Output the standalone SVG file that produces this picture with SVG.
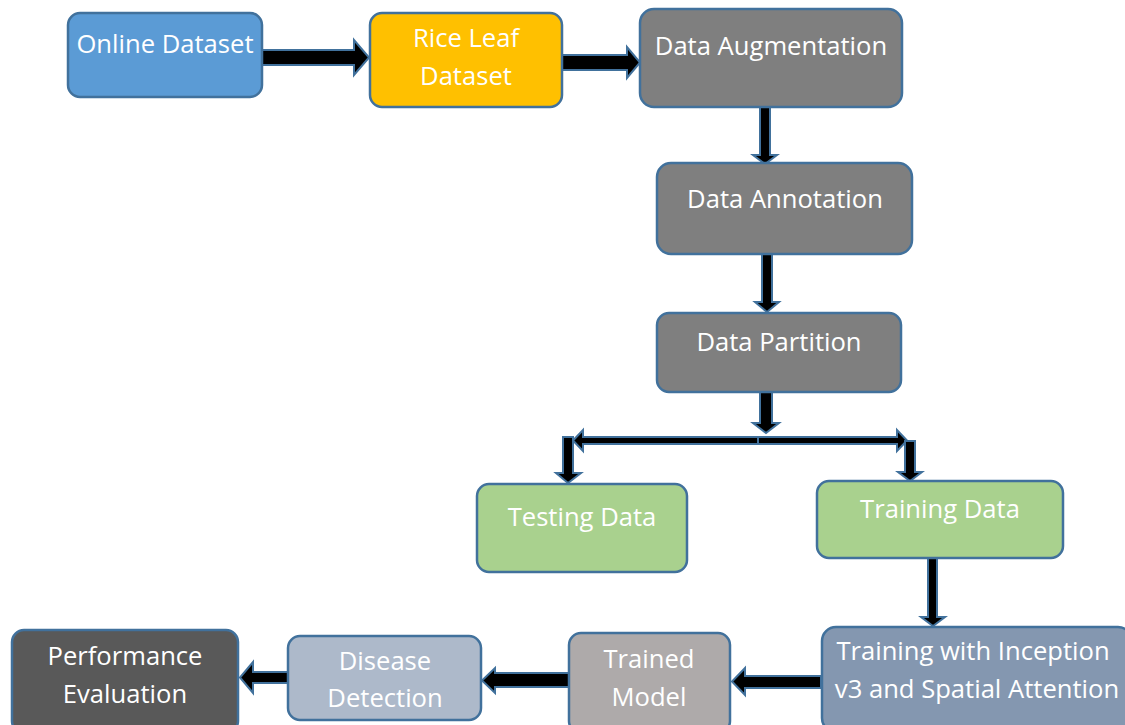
<svg xmlns="http://www.w3.org/2000/svg" width="1125" height="725" viewBox="0 0 1125 725">
<style>
.n{stroke:#41719C;stroke-width:2.5}
.t{fill:#fff;font-family:"Open Sans",sans-serif;font-size:25.6px;text-anchor:middle}
.a{fill:#000;stroke:#41719C;stroke-width:2;stroke-linejoin:miter}
</style>
<rect width="1125" height="725" fill="#fff"/>
<g id="connectors">
<polygon class="a" points="262,50 354,50 354,40 369,57.5 354,75 354,65 262,65"/>
<polygon class="a" points="562,55 627,55 627,47 640,62.5 627,78 627,70 562,70"/>
<polygon class="a" points="760,107 770,107 770,155 777,155 765,164 753,155 760,155"/>
<polygon class="a" points="762,254 772,254 772,302 779,302 767,312 755,302 762,302"/>
<polygon class="a" points="760,391 772,391 772,423 779,423 766,433 753,423 760,423"/>
<polygon class="a" points="758,437 583,437 583,430 573,440.5 583,451 583,444 758,444"/>
<polygon class="a" points="758,437 897,437 897,430 907,440.5 897,451 897,444 758,444"/>
<polygon class="a" points="563,437 573,437 573,473 581,473 568,483 556,473 563,473"/>
<polygon class="a" points="905,441 915,441 915,472 922,472 910,481 898,472 905,472"/>
<polygon class="a" points="928,558 937,558 937,617 945,617 933,626 921,617 928,617"/>
<polygon class="a" points="821,676 745,676 745,668 732,681.5 745,695 745,688 821,688"/>
<polygon class="a" points="569,673 495,673 495,668 482,680.5 495,693 495,687 569,687"/>
<polygon class="a" points="288,672 253,672 253,662 240,677.5 253,693 253,683 288,683"/>
</g>
<g id="online-dataset">
<rect class="n" x="68" y="13" width="194" height="84" rx="12" fill="#5B9BD5"/>
<text class="t" x="165" y="53">Online Dataset</text>
</g>
<g id="rice-leaf-dataset">
<rect class="n" x="370" y="13" width="192" height="94" rx="12" fill="#FFC000"/>
<text class="t" x="466" y="47">Rice Leaf</text>
<text class="t" x="466" y="85">Dataset</text>
</g>
<g id="data-augmentation">
<rect class="n" x="640" y="9" width="262" height="98" rx="14" fill="#7F7F7F"/>
<text class="t" x="771" y="55">Data Augmentation</text>
</g>
<g id="data-annotation">
<rect class="n" x="657" y="163" width="255" height="91" rx="14" fill="#7F7F7F"/>
<text class="t" x="785" y="208">Data Annotation</text>
</g>
<g id="data-partition">
<rect class="n" x="657" y="313" width="244" height="79" rx="12" fill="#7F7F7F"/>
<text class="t" x="779" y="351">Data Partition</text>
</g>
<g id="testing-data">
<rect class="n" x="477" y="484" width="210" height="88" rx="12" fill="#A9D18E"/>
<text class="t" x="582" y="526">Testing Data</text>
</g>
<g id="training-data">
<rect class="n" x="817" y="481" width="246" height="77" rx="12" fill="#A9D18E"/>
<text class="t" x="940" y="518">Training Data</text>
</g>
<g id="training-inception">
<rect class="n" x="822" y="627" width="310" height="105" rx="14" fill="#8497B0"/>
<text class="t" x="973" y="660">Training with Inception</text>
<text class="t" x="977" y="698">v3 and Spatial Attention</text>
</g>
<g id="trained-model">
<rect class="n" x="569" y="633" width="161" height="100" rx="12" fill="#AEAAAA"/>
<text class="t" x="649" y="668">Trained</text>
<text class="t" x="649" y="706">Model</text>
</g>
<g id="disease-detection">
<rect class="n" x="288" y="636" width="193" height="84" rx="12" fill="#ADB9CA"/>
<text class="t" x="385" y="670">Disease</text>
<text class="t" x="385" y="707">Detection</text>
</g>
<g id="performance-evaluation">
<rect class="n" x="12" y="630" width="226" height="103" rx="12" fill="#595959"/>
<text class="t" x="125" y="665">Performance</text>
<text class="t" x="125" y="703">Evaluation</text>
</g>
</svg>
